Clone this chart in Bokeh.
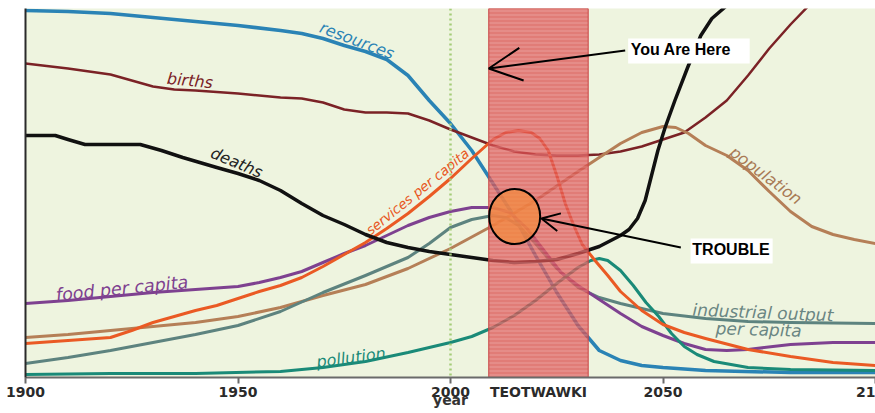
from bokeh.plotting import figure
from bokeh.models import (Range1d, FixedTicker, ColumnDataSource, Span, Arrow,
                          OpenHead, Label)
from bokeh.core.properties import value
from bokeh.embed import file_html
from bokeh.resources import INLINE

# ---------------- data (level: arbitrary units, 0 = axis, 369 = top) ----------------
res_years = [1900, 1910, 1920, 1930, 1940, 1950, 1960, 1965, 1970, 1975, 1980, 1985, 1990,
             1995, 2000, 2005, 2010, 2015, 2020, 2025, 2030, 2035, 2040, 2045, 2050, 2060,
             2080, 2100]
res_vals = [367, 366, 364, 360, 356, 352, 347, 344, 339, 332, 326, 318, 302,
            277, 254, 227, 194, 161, 122, 85, 52, 27, 17, 12, 10, 7,
            5, 5]

birth_years = [1900, 1910, 1920, 1925, 1930, 1935, 1940, 1950, 1960, 1965, 1970, 1975,
               1980, 1985, 1990, 1995, 2000, 2005, 2010, 2015, 2020, 2025, 2030, 2035,
               2040, 2045, 2050, 2055, 2060, 2065, 2070, 2075, 2080, 2085, 2090]
birth_vals = [314, 309, 303, 297, 291, 288, 287, 284, 280, 279, 275, 268,
              265, 265, 264, 257, 248, 240, 232, 226, 223, 222, 222, 223,
              226, 231, 238, 245, 260, 277, 302, 329, 353, 375, 397]

death_years = [1900, 1907, 1910, 1914, 1920, 1927, 1932, 1937, 1945, 1950,
               1955, 1960, 1965, 1970, 1975, 1980, 1985, 1990, 1995, 2000,
               2005, 2010, 2015, 2020, 2025, 2030, 2035, 2040, 2042, 2044,
               2045.8, 2047.3, 2048.8, 2050.5, 2052.8, 2055.8, 2058.9, 2061.5, 2064.5, 2068]
death_vals = [242, 242, 238, 233, 233, 233, 227, 220, 210, 204,
              197, 187, 174, 162, 153, 143, 135, 130, 126, 123,
              120, 117, 115, 116, 118, 124, 131, 142, 148, 159,
              177, 202, 227, 250, 277, 310, 342, 359, 370, 387]

serv_years = [1900, 1910, 1920, 1925, 1930, 1935, 1940, 1945, 1950, 1955,
              1960, 1965, 1970, 1975, 1980, 1985, 1990, 1995, 2000, 2005,
              2010, 2013, 2016, 2019, 2021, 2023, 2025, 2027, 2029, 2031,
              2034, 2037, 2040, 2045, 2050, 2055, 2060, 2070, 2080, 2090, 2100]
serv_vals = [34, 37, 40, 47, 55, 61, 67, 72, 79, 86,
             92, 100, 111, 123, 135, 149, 164, 181, 199, 219,
             238, 245, 247, 245, 239, 227, 202, 174, 152, 133,
             117, 102, 86, 67, 53, 45, 39, 28, 21, 15, 12]

pop_years = [1900, 1910, 1920, 1930, 1940, 1950, 1960, 1970, 1980, 1990,
             2000, 2010, 2020, 2030, 2035, 2040, 2045, 2050, 2053, 2056,
             2060, 2065, 2070, 2075, 2080, 2085, 2090, 2095, 2100]
pop_vals = [40, 43, 47, 51, 55, 61, 70, 82, 93, 109,
            129, 152, 177, 206, 220, 234, 245, 251, 250, 244,
            232, 222, 207, 186, 166, 151, 143, 138, 134]

ind_years = [1900, 1910, 1920, 1930, 1940, 1950, 1960, 1970, 1980, 1990,
             1995, 2000, 2005, 2010, 2013, 2016, 2020, 2025, 2030, 2035,
             2040, 2045, 2050, 2060, 2070, 2080, 2100]
ind_vals = [14, 20, 27, 35, 43, 52, 66, 85, 102, 120,
            134, 150, 158, 162, 160, 152, 134, 109, 90, 80,
            74, 69, 64, 59, 56, 55, 54]

food_years = [1900, 1910, 1920, 1930, 1940, 1950, 1955, 1960, 1965, 1970,
              1975, 1980, 1985, 1990, 1995, 2000, 2005, 2010, 2014, 2018,
              2022, 2026, 2030, 2035, 2040, 2045, 2050, 2055, 2060, 2065,
              2070, 2080, 2090, 2100]
food_vals = [74, 77, 81, 85, 88, 91, 95, 100, 106, 115,
             124, 132, 142, 152, 160, 166, 170, 170, 165, 149,
             127, 105, 92, 78, 64, 51, 42, 34, 28, 27,
             28, 33, 35, 35]

poll_years = [1900, 1920, 1940, 1960, 1970, 1980, 1990, 2000, 2005, 2010,
              2015, 2020, 2025, 2030, 2033, 2035, 2037, 2040, 2043, 2046,
              2049, 2052, 2055, 2058, 2062, 2070, 2080, 2100]
poll_vals = [3, 4, 4, 6, 10, 16, 25, 35, 41, 50,
             62, 77, 94, 110, 117, 119, 117, 107, 92, 75,
             61, 44, 31, 23, 16, 10, 8, 7]

tick_years = [1900, 1950, 2000, 2050, 2100]
band_start, band_end = 2009.0, 2032.4
band_label = "TEOTWAWKI"
band_label_year = 2020.7

label_texts = ["resources", "births", "deaths", "services per capita", "food per capita",
               "pollution", "population", "industrial output", "per capita"]
label_x = [1978, 1938.7, 1949.7, 1992.2, 1922.7, 1976.6, 2074.2, 2073.5, 2072.5]
label_y = [337, 297, 215, 186, 89, 20, 202, 65, 48]
label_angle = [-0.36, -0.1, -0.4, 0.68, 0.1, 0.13, -0.64, -0.04, -0.03]
label_size = ["16px", "16px", "16px", "13.5px", "17.5px", "16px", "16px", "17px", "17px"]
label_color = ["#2a83b5", "#7b2226", "#222222", "#e8581f", "#7e4190",
               "#1a8a78", "#a87a55", "#6a8683", "#6a8683"]

# ---------------- figure ----------------
p = figure(width=875, height=413, output_backend="svg", toolbar_location=None,
           x_range=Range1d(1900, 2100), y_range=Range1d(0, 369),
           min_border_left=25, min_border_right=0, min_border_top=8, min_border_bottom=36)
p.background_fill_color = "#eef4df"
p.border_fill_color = "white"
p.outline_line_color = None
p.grid.visible = False

# x axis: visible tick marks are drawn as minor ticks at the years, the band name
# is carried as an extra (tickless) label under the band
p.xaxis.ticker = FixedTicker(ticks=tick_years + [band_label_year], minor_ticks=tick_years)
p.xaxis.major_label_overrides = {band_label_year: band_label}
p.xaxis.axis_line_color = "#6a6a6a"
p.xaxis.axis_line_width = 2
p.xaxis.major_tick_line_color = None
p.xaxis.major_tick_out = 5
p.xaxis.major_tick_in = 0
p.xaxis.minor_tick_line_color = "#6a6a6a"
p.xaxis.minor_tick_line_width = 2
p.xaxis.minor_tick_out = 6
p.xaxis.minor_tick_in = 0
p.xaxis.major_label_text_font = "DejaVu Sans"
p.xaxis.major_label_text_font_style = "bold"
p.xaxis.major_label_text_font_size = "14px"
p.xaxis.major_label_text_color = "#2a2a2a"
p.xaxis.major_label_standoff = 0
p.xaxis.axis_label = "year"
p.xaxis.axis_label_text_font = "DejaVu Sans"
p.xaxis.axis_label_text_font_style = "bold"
p.xaxis.axis_label_text_font_size = "14px"
p.xaxis.axis_label_text_color = "#333333"
p.xaxis.axis_label_standoff = -11

p.yaxis.ticker = FixedTicker(ticks=[])
p.yaxis.axis_line_color = "#2a2a2a"
p.yaxis.axis_line_width = 2
p.yaxis.major_tick_line_color = None
p.yaxis.minor_tick_line_color = None
p.yaxis.major_label_standoff = 0

# 2000 dotted marker
p.add_layout(Span(location=2000, dimension="height", line_color="#a4cc78",
                  line_width=2.5, line_dash="2 3"))

# curves
p.line(res_years, res_vals, line_color="#2a83b5", line_width=3.5, line_join="round")
p.line(birth_years, birth_vals, line_color="#7b2226", line_width=2.5, line_join="round")
p.line(pop_years, pop_vals, line_color="#b57f57", line_width=3, line_join="round")
p.line(ind_years, ind_vals, line_color="#5d837f", line_width=3, line_join="round")
p.line(food_years, food_vals, line_color="#7e4190", line_width=3, line_join="round")
p.line(poll_years, poll_vals, line_color="#1a8a78", line_width=3, line_join="round")
p.line(serv_years, serv_vals, line_color="#ea5a24", line_width=3, line_join="round")
p.line(death_years, death_vals, line_color="#111111", line_width=3.5, line_join="round")

# red TEOTWAWKI band
p.quad(left=[band_start], right=[band_end], bottom=[0], top=[369],
       fill_color="#dc5252", fill_alpha=0.74, line_color="#c84444", line_width=1,
       hatch_pattern="horizontal_line", hatch_color="white", hatch_alpha=0.25,
       hatch_scale=4, hatch_weight=1)

# trouble circle
p.ellipse(x=[2015.1], y=[161], width=51, height=55, width_units="screen",
          height_units="screen", fill_color="#f48a3c", fill_alpha=0.7,
          line_color="black", line_width=2)

# curve labels
src = ColumnDataSource(dict(x=label_x, y=label_y, text=label_texts, angle=label_angle,
                            color=label_color, size=label_size))
p.text(x="x", y="y", text="text", angle="angle", text_color="color", source=src,
       text_font=value("DejaVu Sans"), text_font_style="italic", text_font_size="size",
       text_align="center", text_baseline="middle")

# arrows
p.add_layout(Arrow(end=OpenHead(size=33, line_width=2, line_color="black"),
                   x_start=2041.1, y_start=327, x_end=2009.0, y_end=309,
                   line_width=2, line_color="black"))
p.add_layout(Arrow(end=OpenHead(size=18, line_width=2, line_color="black"),
                   x_start=2054.2, y_start=130, x_end=2021.4, y_end=159,
                   line_width=2, line_color="black"))

# white boxes with callout text
p.quad(left=[2041.8, 2056.5], right=[2070.4, 2075.8], bottom=[314, 114], top=[339, 139],
       fill_color="white", line_color=None)
for tx, ty, tt in [(2042.4, 328, "You Are Here"), (2056.9, 128, "TROUBLE")]:
    p.add_layout(Label(x=tx, y=ty, text=tt, text_font="Liberation Sans",
                       text_font_style="bold", text_font_size="16px",
                       text_color="black", text_baseline="middle", text_align="left"))

open("out.html", "w").write(file_html(p, INLINE))
